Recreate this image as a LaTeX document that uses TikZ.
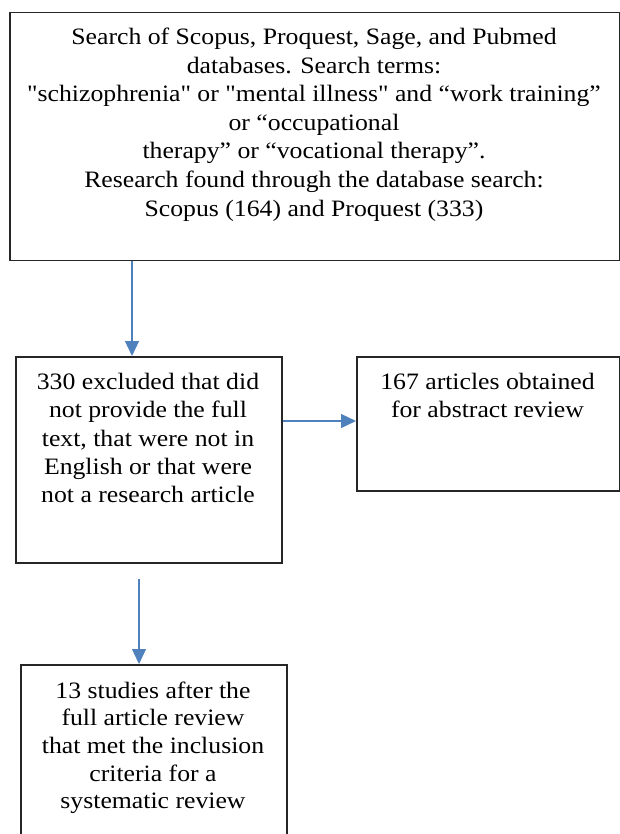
\documentclass[tikz,border=0pt]{standalone}
\usepackage{fontspec}
\setmainfont{Liberation Serif}[FakeStretch=1.095, Ligatures=TeXOff]
\usetikzlibrary{arrows.meta}
\definecolor{arrowblue}{HTML}{4F81BD}
\definecolor{boxline}{HTML}{262626}
\begin{document}
\begin{tikzpicture}[x=1pt,y=-1pt,
  box/.style={draw=boxline, line width=1.5pt, rectangle, inner sep=0pt, anchor=north west},
  txt/.style={align=center, anchor=base, inner sep=0pt, font=\fontsize{23.5}{28.5}\selectfont},
  arr/.style={draw=arrowblue, line width=1.3pt, -{Triangle[length=15pt,width=14pt]}}]
\useasboundingbox (0,0) rectangle (620,834);
% boxes
\node[box, minimum width=610pt, minimum height=247.5pt] (b1) at (9,12) {};
\node[box, minimum width=266pt, minimum height=206pt] (b2) at (15,356) {};
\node[box, minimum width=263pt, minimum height=134pt] (b3) at (356,356) {};
\node[box, minimum width=266pt, minimum height=300pt] (b4) at (20,664) {};
% texts (anchor base = baseline of last line)
\node[txt] (t1) at (314,216) {Search of Scopus, Proquest, Sage, and Pubmed\\ databases. Search terms:\\ "schizophrenia" or "mental illness" and “work training”\\ or “occupational\\ therapy” or “vocational therapy”.\\ Research found through the database search:\\ Scopus (164) and Proquest (333)};
\node[txt, font=\fontsize{23.5}{28.3}\selectfont] (t2) at (148,502.7) {330 excluded that did\\ not provide the full\\ text, that were not in\\ English or that were\\ not a research article};
\node[txt, font=\fontsize{23.5}{28.3}\selectfont] (t3) at (487.5,417.8) {167 articles obtained\\ for abstract review};
\node[txt, font=\fontsize{23.5}{27.7}\selectfont] (t4) at (153,808.8) {13 studies after the\\ full article review\\ that met the inclusion\\ criteria for a\\ systematic review};
% connectors
\coordinate (a3s) at (139,579);
\draw[arr] (b1.south -| 132,0) -- (b2.north -| 132,0);
\draw[arr] (b2.east |- 0,421) -- (b3.west |- 0,421);
\draw[arr] (a3s) -- (a3s |- b4.north);
\end{tikzpicture}
\end{document}
